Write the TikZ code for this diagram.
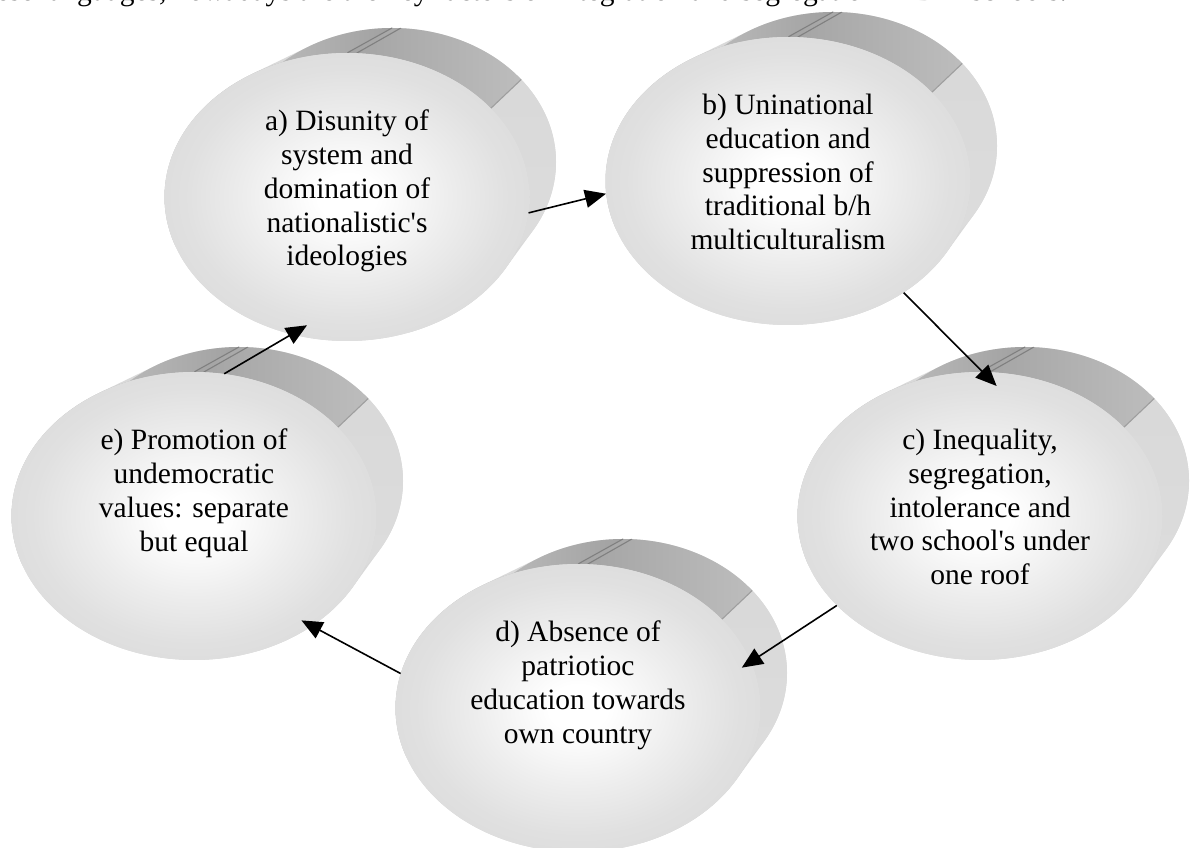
\documentclass[tikz,border=0pt]{standalone}
\usepackage{fontspec}
\setmainfont{Liberation Serif}[Ligatures=TeXOff]
\usetikzlibrary{shapes.geometric,arrows.meta}
\pgfdeclareradialshading{facesh}{\pgfpoint{0bp}{0bp}}{color(0bp)=(white); color(4bp)=(white); color(14bp)=(black!7); color(22bp)=(black!12); color(25bp)=(black!13); color(50bp)=(black!13)}
\tikzset{
 disktext/.style={font=\fontsize{29.5}{33.7}\selectfont, align=center, inner sep=0pt, anchor=north},
 diskshape/.style={ellipse, minimum width=365pt, minimum height=288pt, inner sep=0pt, draw=none},
 flow/.style={line width=1.6pt, -{Triangle[length=21pt,width=18pt]}},
 seamdark/.style={draw=black!50, line width=1.1pt},
 seamlight/.style={draw=black!38, line width=1.1pt},
 introtext/.style={anchor=base east, inner sep=0pt, font=\fontsize{29.5}{33.7}\selectfont}
}
\newcommand\mydisk[4]{%
\begin{scope}[shift={(#2,#3)}]
 \fill[black!15] \foreach \k in {0,...,24} {({45*\k/24},{35*\k/24}) ellipse [x radius={182.5-18.5*\k/24}, y radius={144-10*\k/24}]};
 \shade[left color=black!18, right color=black!37]
   (90:182.5 and 144) arc[start angle=90, end angle=200, x radius=182.5, y radius=144]
   -- ([shift={(45,35)}]200:164 and 134) arc[start angle=200, end angle=90, x radius=164, y radius=134] -- cycle;
 \shade[left color=black!36, right color=black!26]
   (38:182.5 and 144) arc[start angle=38, end angle=90, x radius=182.5, y radius=144]
   -- ([shift={(45,35)}]90:164 and 134) arc[start angle=90, end angle=38, x radius=164, y radius=134] -- cycle;
 \shade[top color=black!15, bottom color=black!13]
   (-70:182.5 and 144) arc[start angle=-70, end angle=38, x radius=182.5, y radius=144]
   -- ([shift={(45,35)}]38:164 and 134) arc[start angle=38, end angle=-70, x radius=164, y radius=134] -- cycle;
 \draw[seamdark] (90:182.5 and 144) -- ([shift={(45,35)}]90:164 and 134);
 \draw[seamdark] (87:182.5 and 144) -- ([shift={(45,35)}]87:164 and 134);
 \draw[seamlight] (38:182.5 and 144) -- ([shift={(45,35)}]38:164 and 134);
 \shade[shading=facesh] (0,0) ellipse [x radius=182.5, y radius=144];
 \node[diskshape] (#1) at (0,0) {};
 \node[disktext] (#1-t) at (0,87) {#4};
\end{scope}}
\begin{document}
\begin{tikzpicture}[x=1pt,y=1pt]
\useasboundingbox (0,0) rectangle (1191,848);
\clip (0,0) rectangle (1191,848);
\node[introtext] (intro) at (1067,847.5) {these languages, nowadays are the key factors of integration and segregation in BiH schools.};
\mydisk{a}{347}{651}{a) Disunity of\\system and\\domination of\\nationalistic's\\ideologies}
\mydisk{b}{788}{667}{b) Uninational\\education and\\suppression of\\traditional b/h\\multiculturalism}
\mydisk{c}{980}{332}{c) Inequality,\\segregation,\\intolerance and\\two school's under\\one roof}
\mydisk{d}{578}{140}{d) Absence of\\patriotioc\\education towards\\own country}
\mydisk{e}{194}{332}{e) Promotion of\\undemocratic\\values: separate\\but equal}
\draw[flow] (a.-5) -- (b.184);
\draw[flow, shorten >=-20pt] (b.-44) -- (c.89);
\draw[flow, shorten >=-11pt] (c.212) -- (d.15);
\draw[flow, shorten >=-12pt] (d.169) -- (e.-43);
\draw[flow, shorten >=-18pt] (e.78) -- (a.-112);
\end{tikzpicture}
\end{document}
